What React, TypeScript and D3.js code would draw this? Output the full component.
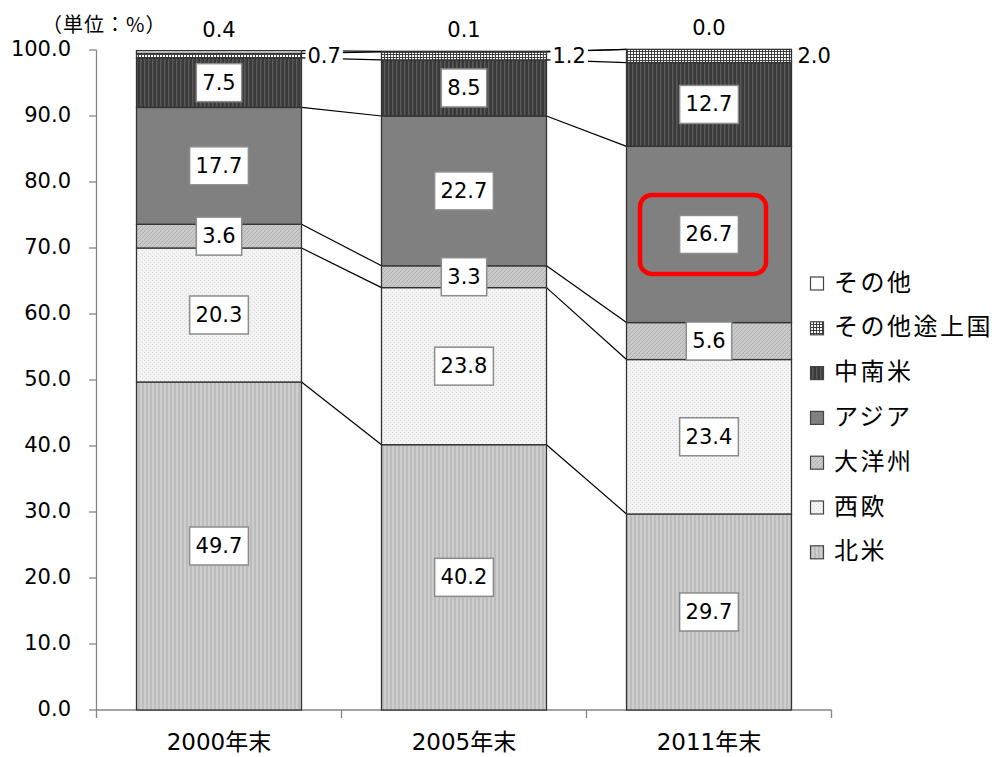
import React from "react";
import * as d3 from "d3";

const categories = ["2000年末", "2005年末", "2011年末"];
const seriesNames = ["北米", "西欧", "大洋州", "アジア", "中南米", "その他途上国", "その他"];
const northAmerica = [49.7, 40.2, 29.7];
const westEurope = [20.3, 23.8, 23.4];
const oceania = [3.6, 3.3, 5.6];
const asia = [17.7, 22.7, 26.7];
const latinAmerica = [7.5, 8.5, 12.7];
const otherDeveloping = [0.7, 1.2, 2.0];
const others = [0.4, 0.1, 0.0];
const yTicks = [0, 10, 20, 30, 40, 50, 60, 70, 80, 90, 100];

const seriesValues = [northAmerica, westEurope, oceania, asia, latinAmerica, otherDeveloping, others];
const fills = ["url(#pNA)", "url(#pWE)", "url(#pOC)", "#808080", "url(#pLA)", "url(#pOD)", "#ffffff"];

const FONT = "'DejaVu Sans', 'Noto Sans CJK JP', sans-serif";
const CJK = "'Noto Sans CJK JP', sans-serif";

function textW(s: string, fs: number) {
  let w = 0;
  for (const c of s) w += c === "." ? 0.318 * fs : 0.636 * fs;
  return w;
}

export default function App() {
  const W = 994, H = 757;
  const rows = categories.map((c, i) => {
    const r: any = { cat: c };
    seriesNames.forEach((s, k) => (r[s] = seriesValues[k][i]));
    return r;
  });
  const stacked = d3.stack().keys(seriesNames)(rows);
  const p = 80 / 245;
  const x = d3.scaleBand().domain(categories).range([96.5, 831.5]).paddingInner(p).paddingOuter(p / 2);
  const y = d3.scaleLinear().domain([0, 100]).range([710, 50]);
  const bw = x.bandwidth();
  const fs = 21;

  const seriesLines: any[] = [];
  stacked.forEach((layer, k) => {
    for (let i = 0; i < categories.length - 1; i++) {
      seriesLines.push({
        key: `${k}-${i}`,
        x1: (x(categories[i]) as number) + bw,
        y1: y(layer[i][1]),
        x2: x(categories[i + 1]) as number,
        y2: y(layer[i + 1][1]),
      });
    }
  });

  const legendItems = seriesNames.slice().reverse();
  const legendFills = fills.slice().reverse();

  const asiaLayer = stacked[3][2];
  const hx = (x(categories[2]) as number) + bw / 2 + 1;
  const hy = y((asiaLayer[0] + asiaLayer[1]) / 2);

  return (
    <svg width={W} height={H} style={{ position: "absolute", left: 0, top: 0 }} fontFamily={FONT}>
      <defs>
        <pattern id="pNA" width="4" height="4" patternUnits="userSpaceOnUse">
          <rect width="4" height="4" fill="#bcbcbc" />
          <rect width="2" height="4" fill="#cdcdcd" />
        </pattern>
        <pattern id="pWE" width="4" height="4" patternUnits="userSpaceOnUse">
          <rect width="4" height="4" fill="#f3f3f3" />
          <rect x="0" y="0" width="1" height="1" fill="#dcdcdc" />
          <rect x="2" y="2" width="1" height="1" fill="#dcdcdc" />
        </pattern>
        <pattern id="pOC" width="4" height="4" patternUnits="userSpaceOnUse">
          <rect width="4" height="4" fill="#c9c9c9" />
          <path d="M0,4 L4,0 M-1,1 L1,-1 M3,5 L5,3" stroke="#b2b2b2" strokeWidth="1" />
        </pattern>
        <pattern id="pLA" width="4" height="4" patternUnits="userSpaceOnUse">
          <rect width="4" height="4" fill="#3a3a3a" />
          <rect width="1.5" height="4" fill="#585858" />
        </pattern>
        <pattern id="pOD" width="3" height="3" patternUnits="userSpaceOnUse">
          <rect width="3" height="3" fill="#ffffff" />
          <rect width="1" height="3" fill="#404040" />
          <rect width="3" height="1" fill="#404040" />
        </pattern>
      </defs>

      {/* unit label */}
      <text x={42} y={27} fontSize={20} dominantBaseline="middle" fontFamily={CJK} letterSpacing={1}>（単位：%）</text>

      {/* y axis */}
      <line x1={96.5} x2={96.5} y1={y(100)} y2={y(0)} stroke="#868686" strokeWidth={1.3} />
      {yTicks.map((t) => (
        <g key={t}>
          <line x1={89} x2={96.5} y1={y(t)} y2={y(t)} stroke="#868686" strokeWidth={1.3} />
          <text x={71} y={y(t)} fontSize={fs} textAnchor="end" dominantBaseline="middle">{t.toFixed(1)}</text>
        </g>
      ))}
      {/* x axis */}
      <line x1={96.5} x2={831.5} y1={y(0)} y2={y(0)} stroke="#868686" strokeWidth={1.3} />
      {[0, 1, 2, 3].map((i) => {
        const xx = 96.5 + i * x.step();
        return <line key={i} x1={xx} x2={xx} y1={y(0)} y2={y(0) + 8} stroke="#868686" strokeWidth={1.3} />;
      })}
      {categories.map((c) => (
        <text key={c} x={(x(c) as number) + bw / 2} y={750} fontSize={23} textAnchor="middle">{c}</text>
      ))}

      {/* series lines */}
      {seriesLines.map((l) => (
        <line key={l.key} x1={l.x1} y1={l.y1} x2={l.x2} y2={l.y2} stroke="#000" strokeWidth={1.2} />
      ))}

      {/* bars */}
      {stacked.map((layer, k) => (
        <g key={seriesNames[k]}>
          {layer.map((d, i) => (
            <rect
              key={i}
              x={x(categories[i]) as number}
              y={y(d[1])}
              width={bw}
              height={Math.max(0, y(d[0]) - y(d[1]))}
              fill={fills[k]}
              stroke="#333"
              strokeWidth={1.3}
            />
          ))}
        </g>
      ))}

      {/* labels */}
      {stacked.map((layer, k) =>
        layer.map((d, i) => {
          const v = seriesValues[k][i];
          const s = v.toFixed(1);
          const cx = (x(categories[i]) as number) + bw / 2;
          if (k <= 4) {
            const cy = y((d[0] + d[1]) / 2);
            const w = textW(s, fs) + 12;
            return (
              <g key={`l${k}-${i}`}>
                <rect x={cx - w / 2} y={cy - 19} width={w} height={38} fill="#fff" stroke="#8c8c8c" strokeWidth={1.5} />
                <text x={cx} y={cy + 1} fontSize={fs} textAnchor="middle" dominantBaseline="middle">{s}</text>
              </g>
            );
          } else if (k === 5) {
            const cy = y((d[0] + d[1]) / 2);
            const lx = (x(categories[i]) as number) + bw + 6;
            const w = textW(s, fs);
            return (
              <g key={`l${k}-${i}`}>
                <rect x={lx - 2} y={cy - 12} width={w + 4} height={24} fill="#fff" />
                <text x={lx} y={cy + 1} fontSize={fs} dominantBaseline="middle">{s}</text>
              </g>
            );
          } else {
            return (
              <text key={`l${k}-${i}`} x={cx} y={y(d[1]) - 20} fontSize={fs} textAnchor="middle" dominantBaseline="middle">{s}</text>
            );
          }
        })
      )}

      {/* highlight */}
      <rect x={hx - 70} y={hy - 39.5} width={126} height={79} rx={12} ry={12} fill="none" stroke="#ff0000" strokeWidth={4.5} />

      {/* legend */}
      {legendItems.map((name, i) => {
        const ly = 283 + 44.8 * i;
        return (
          <g key={name}>
            <rect x={810.5} y={ly - 6} width={13} height={13} fill={legendFills[i]} stroke="#444" strokeWidth={1.2} />
            <text x={834} y={ly + 1} fontSize={24} letterSpacing={2.5} dominantBaseline="middle" fontFamily={CJK}>{name}</text>
          </g>
        );
      })}
    </svg>
  );
}
